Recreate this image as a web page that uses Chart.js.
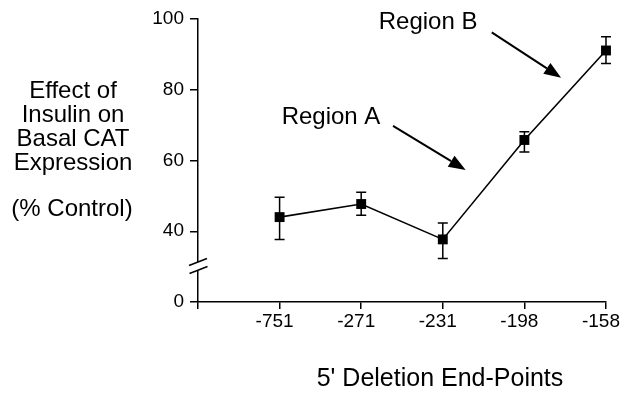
<!DOCTYPE html>
<html><head><meta charset="utf-8">
<script src="https://cdn.jsdelivr.net/npm/chart.js@4/dist/chart.umd.min.js"></script>
<style>html,body{margin:0;padding:0;background:#fff}#wrap{width:626px;height:399px}</style>
</head><body><div id="wrap"><canvas id="c" width="626" height="399"></canvas></div>
<script>
// ---- data ----
const categories = ['-751', '-271', '-231', '-198', '-158'];
const effect    = [44.0, 47.7, 37.7, 65.8, 91.1];
const errLow    = [37.7, 44.5, 32.3, 62.4, 87.4];
const errHigh   = [49.6, 51.0, 42.3, 68.1, 95.0];
// broken axis: the bottom tick (scale value 20) is labelled "0"
const yTickValues = [20, 40, 60, 80, 100];
const yTickLabels = ['0', '40', '60', '80', '100'];
const yLabelLines = ['Effect of', 'Insulin on', 'Basal CAT', 'Expression'];
const yLabelExtra = '(% Control)';
const xTitle = "5' Deletion End-Points";
const regions = [
  {text: 'Region A', tx: 1.63, ty: 72.1, x0: 2.39, y0: 69.8, x1: 3.28, y1: 57.3},
  {text: 'Region B', tx: 2.82, ty: 99.0, x0: 3.60, y0: 96.2, x1: 4.45, y1: 83.4}
];

const FONT = '"Liberation Sans", Arial, Helvetica, sans-serif';

const decor = {
  id: 'decor',
  beforeDatasetsDraw(chart) {
    const {ctx, scales: {x, y}} = chart;
    ctx.save();
    ctx.strokeStyle = '#000';
    ctx.lineWidth = 1.5;
    effect.forEach((v, i) => {
      const px = x.getPixelForValue(i + 1);
      const yl = y.getPixelForValue(errLow[i]);
      const yh = y.getPixelForValue(errHigh[i]);
      ctx.beginPath();
      ctx.moveTo(px, yl); ctx.lineTo(px, yh);
      ctx.moveTo(px - 5, yl); ctx.lineTo(px + 5, yl);
      ctx.moveTo(px - 5, yh); ctx.lineTo(px + 5, yh);
      ctx.stroke();
    });
    ctx.restore();
  },
  afterDraw(chart) {
    const {ctx, chartArea: ca, scales: {x, y}} = chart;
    ctx.save();
    // axis break
    const ax = ca.left;
    ctx.fillStyle = '#fff';
    ctx.fillRect(ax - 3, ca.bottom - 40, 6, 8);
    ctx.strokeStyle = '#000';
    ctx.lineWidth = 1.5;
    [[ca.bottom - 40, 0], [ca.bottom - 32, 0.5]].forEach(([cy, dx]) => {
      ctx.beginPath();
      ctx.moveTo(ax - 9 + dx, cy + 3.5);
      ctx.lineTo(ax + 9 + dx, cy - 3.5);
      ctx.stroke();
    });
    // left label
    ctx.fillStyle = '#000';
    ctx.font = '24px ' + FONT;
    ctx.textAlign = 'center';
    ctx.textBaseline = 'middle';
    const lys = [91, 115, 139, 163];
    yLabelLines.forEach((t, i) => ctx.fillText(t, 73, lys[i]));
    ctx.fillText(yLabelExtra, 72, 209);
    // x title
    ctx.font = '25px ' + FONT;
    ctx.fillText(xTitle, 440, 379);
    // region annotations
    ctx.font = '24px ' + FONT;
    regions.forEach(r => {
      ctx.fillText(r.text, x.getPixelForValue(r.tx), y.getPixelForValue(r.ty));
      const X0 = x.getPixelForValue(r.x0), Y0 = y.getPixelForValue(r.y0);
      const X1 = x.getPixelForValue(r.x1), Y1 = y.getPixelForValue(r.y1);
      const ang = Math.atan2(Y1 - Y0, X1 - X0);
      const L = 17, W = 6.5;
      const bx = X1 - L * Math.cos(ang), by = Y1 - L * Math.sin(ang);
      ctx.lineWidth = 2;
      ctx.beginPath(); ctx.moveTo(X0, Y0); ctx.lineTo(bx, by); ctx.stroke();
      ctx.beginPath();
      ctx.moveTo(X1, Y1);
      ctx.lineTo(bx + W * Math.sin(ang), by - W * Math.cos(ang));
      ctx.lineTo(bx - W * Math.sin(ang), by + W * Math.cos(ang));
      ctx.closePath(); ctx.fill();
    });
    ctx.restore();
  }
};

new Chart(document.getElementById('c'), {
  type: 'line',
  data: {
    datasets: [{
      data: effect.map((v, i) => ({x: i + 1, y: v})),
      clip: false,
      borderColor: '#000',
      borderWidth: 1.6,
      backgroundColor: '#000',
      pointStyle: 'rect',
      pointRadius: 7,
      pointBorderWidth: 0,
      pointBackgroundColor: '#000',
      tension: 0
    }]
  },
  options: {
    responsive: false,
    animation: false,
    devicePixelRatio: 1,
    layout: {padding: {top: 19, right: 19, left: 0, bottom: 0}},
    plugins: {legend: {display: false}, tooltip: {enabled: false}},
    scales: {
      x: {
        type: 'linear', min: 0, max: 5,
        afterFit: s => { s.height = 97; },
        afterBuildTicks: s => { s.ticks = [0, 1, 2, 3, 4, 5].map(v => ({value: v})); },
        border: {display: true, color: '#000', width: 1.5},
        grid: {drawOnChartArea: false, drawTicks: true, tickLength: 7, color: '#000', lineWidth: 1.5},
        ticks: {
          color: '#000', font: {family: FONT, size: 19}, padding: 1,
          maxRotation: 0, autoSkip: false, labelOffset: -5,
          callback: v => (v >= 1 ? categories[v - 1] : '')
        }
      },
      y: {
        min: 20, max: 100,
        afterFit: s => { s.width = 198; },
        afterBuildTicks: s => { s.ticks = yTickValues.map(v => ({value: v})); },
        border: {display: true, color: '#000', width: 1.5},
        grid: {drawOnChartArea: false, drawTicks: true, tickLength: 8, color: '#000', lineWidth: 1.5},
        ticks: {
          color: '#000', font: {family: FONT, size: 19}, padding: 6,
          callback: v => yTickLabels[yTickValues.indexOf(v)]
        }
      }
    }
  },
  plugins: [decor]
});
</script></body></html>
